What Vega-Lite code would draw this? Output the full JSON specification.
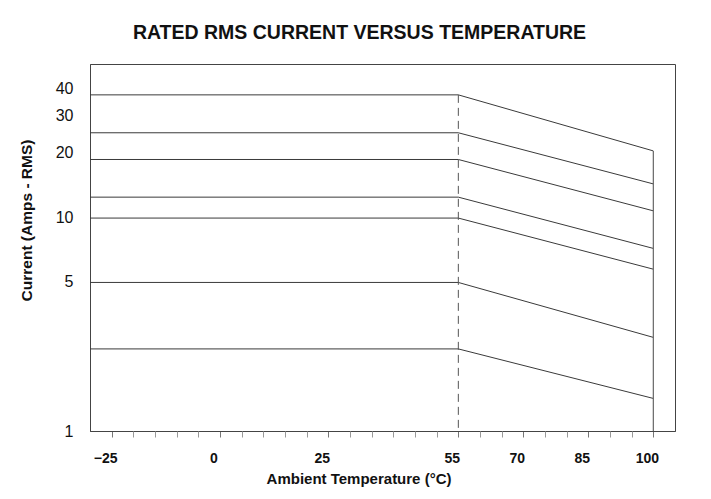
{
  "$schema": "https://vega.github.io/schema/vega-lite/v6.json",
  "width": 585,
  "height": 367,
  "autosize": {"type": "none"},
  "padding": {"left": 90, "top": 64, "right": 36, "bottom": 68},
  "background": "white",
  "title": {
    "text": "RATED RMS CURRENT VERSUS TEMPERATURE",
    "font": "Liberation Sans",
    "fontSize": 19.5,
    "fontWeight": "bold",
    "color": "#111",
    "anchor": "middle",
    "dx": -23,
    "baseline": "alphabetic",
    "offset": 6
  },
  "datasets": {
    "curves": [
      {"series": "a", "T": -30, "I": 37.3}, {"series": "a", "T": 55, "I": 37.3}, {"series": "a", "T": 100, "I": 20.4},
      {"series": "b", "T": -30, "I": 24.8}, {"series": "b", "T": 55, "I": 24.8}, {"series": "b", "T": 100, "I": 14.3},
      {"series": "c", "T": -30, "I": 18.6}, {"series": "c", "T": 55, "I": 18.6}, {"series": "c", "T": 100, "I": 10.7},
      {"series": "d", "T": -30, "I": 12.4}, {"series": "d", "T": 55, "I": 12.4}, {"series": "d", "T": 100, "I": 7.14},
      {"series": "e", "T": -30, "I": 9.9}, {"series": "e", "T": 55, "I": 9.9}, {"series": "e", "T": 100, "I": 5.71},
      {"series": "f", "T": -30, "I": 4.95}, {"series": "f", "T": 55, "I": 4.95}, {"series": "f", "T": 100, "I": 2.74},
      {"series": "g", "T": -30, "I": 2.42}, {"series": "g", "T": 55, "I": 2.42}, {"series": "g", "T": 100, "I": 1.42}
    ],
    "verticals": [
      {"kind": "dashed", "T": 55, "top": 37.3, "bottom": 1},
      {"kind": "solid", "T": 100, "top": 20.4, "bottom": 1}
    ]
  },
  "resolve": {"axis": {"x": "independent"}},
  "layer": [
    {
      "data": {"name": "curves"},
      "mark": {"type": "line", "color": "#3a3a3a", "strokeWidth": 1},
      "encoding": {
        "x": {
          "field": "T", "type": "quantitative",
          "scale": {"domain": [-30, 105], "nice": false, "zero": false},
          "axis": {
            "orient": "bottom",
            "values": [-25, 0, 25, 55, 70, 85, 100],
            "labelOverlap": false,
            "grid": false,
            "domainColor": "#444",
            "tickColor": "#777",
            "tickSize": 6,
            "labelFont": "Liberation Sans",
            "labelFontSize": 14,
            "labelFontWeight": "bold",
            "labelColor": "#111",
            "labelPadding": 14,
            "labelOffset": -6.5,
            "title": "Ambient Temperature (°C)",
            "titleFont": "Liberation Sans",
            "titleFontSize": 15,
            "titleFontWeight": "bold",
            "titleColor": "#111",
            "titleX": 268.5,
            "titleY": 52,
            "titleBaseline": "alphabetic"
          }
        },
        "y": {
          "field": "I", "type": "quantitative",
          "scale": {"type": "log", "domain": [1, 52], "nice": false},
          "axis": {
            "values": [1, 5, 10, 20, 30, 40],
            "grid": false,
            "ticks": false,
            "domainColor": "#444",
            "labelFont": "Liberation Sans",
            "labelFontSize": 16,
            "labelColor": "#111",
            "labelPadding": 17,
            "title": "Current (Amps - RMS)",
            "titleFont": "Liberation Sans",
            "titleFontSize": 15.5,
            "titleFontWeight": "bold",
            "titleColor": "#111",
            "titleX": -64,
            "titleY": 156,
            "titleBaseline": "middle"
          }
        },
        "detail": {"field": "series"}
      }
    },
    {
      "data": {"name": "verticals"},
      "transform": [{"filter": "datum.kind == 'dashed'"}],
      "mark": {"type": "rule", "color": "#555", "strokeWidth": 1, "strokeDash": [8, 5]},
      "encoding": {
        "x": {
          "field": "T", "type": "quantitative",
          "axis": {
            "orient": "bottom",
            "values": [-20, -15, -10, -5, 5, 10, 15, 20, 30, 35, 40, 45, 50, 60, 65, 75, 80, 90, 95],
            "labels": false,
            "domain": false,
            "grid": false,
            "tickColor": "#999",
            "tickSize": 6,
            "title": null
          }
        },
        "y": {"field": "top", "type": "quantitative"},
        "y2": {"field": "bottom"}
      }
    },
    {
      "data": {"name": "verticals"},
      "transform": [{"filter": "datum.kind == 'solid'"}],
      "mark": {"type": "rule", "color": "#666", "strokeWidth": 1.2},
      "encoding": {
        "x": {"field": "T", "type": "quantitative", "axis": null},
        "y": {"field": "top", "type": "quantitative"},
        "y2": {"field": "bottom"}
      }
    }
  ],
  "config": {
    "view": {"stroke": "#444", "strokeWidth": 1}
  }
}
